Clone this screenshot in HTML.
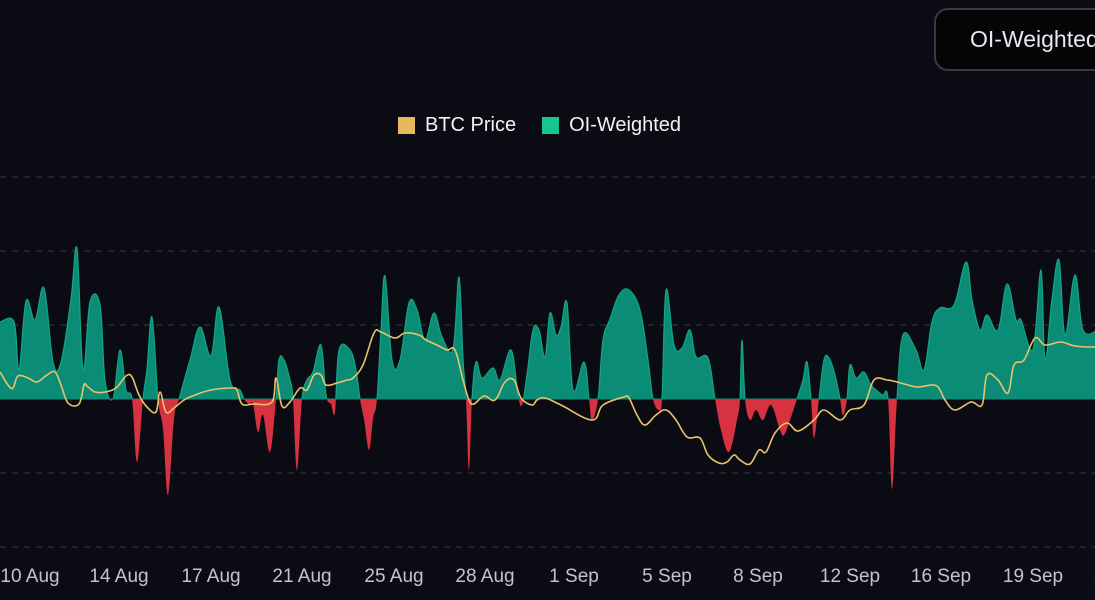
<!DOCTYPE html>
<html><head><meta charset="utf-8">
<style>
html,body{margin:0;padding:0;background:#0b0b13;width:1095px;height:600px;overflow:hidden;font-family:"Liberation Sans",sans-serif;}
#wrap{position:relative;width:1095px;height:600px;}
.btn{position:absolute;left:934px;top:8px;width:200px;height:63px;border:2px solid #3a3a42;border-radius:14px;box-sizing:border-box;background:#050508;color:#e8e8ee;font-size:23px;line-height:59px;padding-left:34px;}
.legend{position:absolute;top:114px;left:398px;font-size:20px;color:#f2f2f5;display:flex;align-items:center;}
.sw{width:17px;height:17px;display:inline-block;margin-right:10px;}
</style></head><body>
<div id="wrap">
<div class="btn">OI-Weighted</div>
<div class="legend">
<span style="display:flex;align-items:center;margin-right:26px"><span class="sw" style="background:#e8b95a"></span>BTC Price</span>
<span style="display:flex;align-items:center"><span class="sw" style="background:#17c68c"></span>OI-Weighted</span>
</div>
<svg id="chart" width="1095" height="600" style="position:absolute;left:0;top:0"></svg>
</div>
<script>
// time axis in hours since start
const tickLabels=["10 Aug","14 Aug","17 Aug","21 Aug","25 Aug","28 Aug","1 Sep","5 Sep","8 Sep","12 Sep","16 Sep","19 Sep","22 Sep"];
const tickHours=[30,119,211,302,394,485,574,667,758,850,941,1033,1124];
const gridValues=[222,148,74,0,-74,-148];
const oiHours=[
0,14,19,26,35,44,53,61,71,77,
83,90,100,105,113,120,126,132,137,143,
147,152,158,163,168,174,179,190,200,211,
219,230,240,244,249,253,258,263,270,276,
279,284,290,293,297,302,307,313,321,326,
331,335,339,350,356,360,364,369,373,377,
381,385,392,400,409,417,425,434,442,453,
459,463,466,469,472,476,482,493,500,511,
518,522,527,533,539,545,550,556,561,567,
573,584,589,592,598,603,610,619,629,640,
648,653,659,662,666,674,682,690,696,708,
715,721,729,737,740,742,745,750,756,763,
771,780,784,790,797,803,807,811,814,819,
824,829,835,840,843,847,850,856,864,871,
882,888,892,897,903,916,924,932,940,954,
966,972,980,987,998,1007,1016,1021,1033,1041,
1045,1052,1059,1065,1075,1083,1098];
const oiValues=[
77,77,29,98,79,111,37,37,100,150,
29,97,94,19,0,49,9,0,-63,0,
30,82,0,-30,-96,-20,0,39,72,43,
92,19,9,0,-5,-5,-33,-16,-53,0,
39,39,19,0,-71,0,19,27,54,4,
-5,-13,49,49,29,0,-20,-51,-20,0,
69,123,39,39,96,89,59,86,62,50,
122,40,0,-71,0,37,21,31,19,49,
4,-6,24,69,69,42,86,64,72,96,
9,37,0,-21,0,59,80,104,109,89,
39,0,-11,0,109,54,51,69,42,41,
0,-31,-53,-21,0,59,0,-21,-11,-21,
-6,-31,-36,-21,0,19,37,0,-39,0,
39,41,24,0,-16,0,34,21,27,14,
4,0,-90,0,64,49,29,77,91,94,
137,99,69,84,69,115,79,79,50,129,
39,100,139,64,124,69,69];
const priceHours=[
0,8,13,18,28,37,47,55,61,68,
79,84,87,95,105,116,126,132,139,147,
156,160,166,174,184,195,211,232,237,242,
253,272,276,282,290,300,307,314,321,326,
337,347,353,363,374,381,395,405,419,426,
437,447,455,463,469,474,484,495,505,514,
521,532,537,545,561,592,603,624,629,637,
645,656,666,676,687,700,708,719,727,734,
740,750,759,766,775,787,798,814,824,840,
850,864,874,887,897,908,918,934,940,945,
955,971,982,987,998,1008,1014,1024,1035,1045,
1061,1075,1098,1124];
const priceValues=[
27,14,11,23,21,17,24,27,14,-4,
-5,14,13,7,7,11,23,22,4,-8,
-13,7,-13,-9,-1,4,9,11,9,-5,
-5,-3,21,-7,-3,11,9,24,24,14,
16,19,21,34,66,67,61,66,64,59,
54,49,49,19,-1,-5,3,-1,17,19,
1,-6,-1,1,-6,-21,-6,2,1,-16,
-26,-16,-11,-21,-38,-39,-56,-64,-63,-56,
-61,-65,-51,-53,-34,-24,-32,-21,-11,-21,
-11,-6,19,19,17,14,12,14,9,-1,
-11,-3,-6,24,19,6,34,39,61,54,
57,53,52,54];
const NS="http://www.w3.org/2000/svg";
const svg=document.getElementById('chart');
const pxPerHour=1.0,zeroY=399;
const xScale=h=>h*pxPerHour;
const yOi=v=>zeroY-v;
const yPrice=v=>zeroY-v;
function mk(tag,attrs){const e=document.createElementNS(NS,tag);for(const k in attrs)e.setAttribute(k,attrs[k]);svg.appendChild(e);return e;}
function smoothPath(pts){
  let d=`M${pts[0][0]},${pts[0][1]}`;
  for(let i=0;i<pts.length-1;i++){
    const p0=pts[i-1]||pts[i],p1=pts[i],p2=pts[i+1],p3=pts[i+2]||p2;
    const t=0.18;
    let c1x=p1[0]+(p2[0]-p0[0])*t,c1y=p1[1]+(p2[1]-p0[1])*t;
    let c2x=p2[0]-(p3[0]-p1[0])*t,c2y=p2[1]-(p3[1]-p1[1])*t;
    c1x=Math.min(Math.max(c1x,p1[0]),p2[0]);c2x=Math.min(Math.max(c2x,p1[0]),p2[0]);
    d+=` C${c1x},${c1y} ${c2x},${c2y} ${p2[0]},${p2[1]}`;
  }
  return d;
}
gridValues.forEach(g=>{
  const l=mk('line',{x1:0,x2:1095,y1:yOi(g),y2:yOi(g),stroke:'#3a3a44','stroke-dasharray':'6 6','stroke-width':1});
  
  
});
const defs=mk('defs',{});
defs.innerHTML=`<clipPath id="pos"><rect x="0" y="0" width="1095" height="${zeroY}"/></clipPath><clipPath id="neg"><rect x="0" y="${zeroY}" width="1095" height="${600-zeroY}"/></clipPath>`;
const oiPts=oiHours.map((h,i)=>[xScale(h),yOi(oiValues[i])]);
const line=smoothPath(oiPts);
const area=line+` L${oiPts[oiPts.length-1][0]},${zeroY} L${oiPts[0][0]},${zeroY} Z`;
const pa=mk('path',{d:area,fill:'#0b8c76','clip-path':'url(#pos)'});


const na=mk('path',{d:area,fill:'#d7323f','clip-path':'url(#neg)'});


const pl=mk('path',{d:line,fill:'none',stroke:'#13a585','stroke-width':1.2,'clip-path':'url(#pos)'});


const zl=mk('line',{x1:0,x2:1095,y1:zeroY,y2:zeroY,stroke:'#0b8c76','stroke-width':1});


const prPts=priceHours.map((h,i)=>[xScale(h),yPrice(priceValues[i])]);
const pr=mk('path',{d:smoothPath(prPts),fill:'none',stroke:'#e9c36a','stroke-width':1.6});


tickLabels.forEach((t,i)=>{
  const tx=mk('text',{x:xScale(tickHours[i]),y:582,fill:'#c4c4cc','font-size':19,'text-anchor':'middle','font-family':'Liberation Sans, sans-serif'});
  tx.textContent=t;
  
  
});
</script>
</body></html>
